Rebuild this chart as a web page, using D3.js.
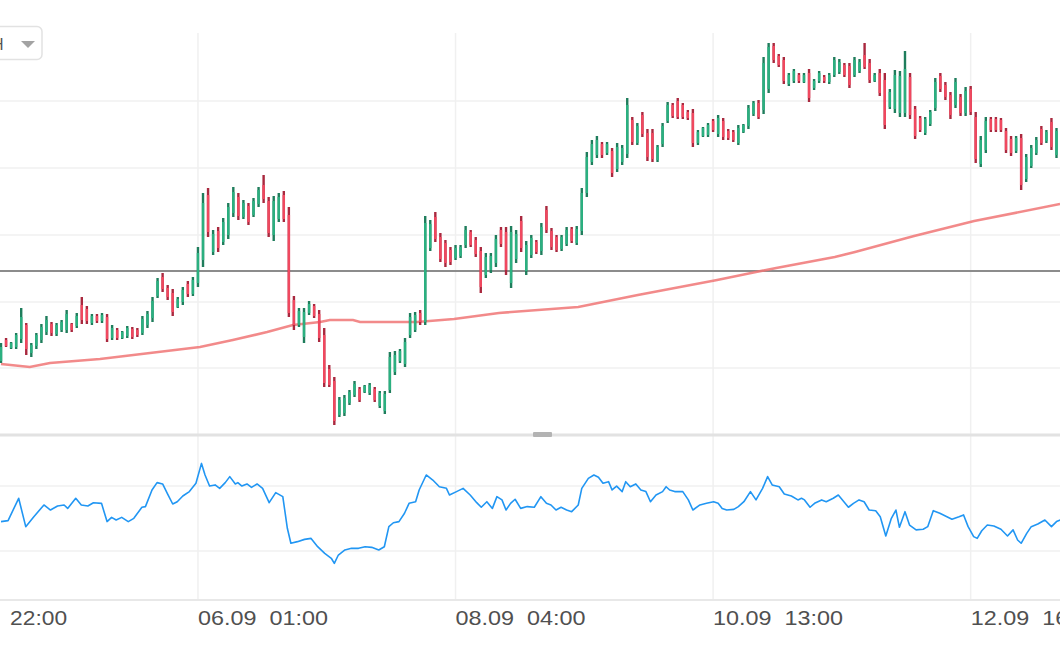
<!DOCTYPE html>
<html><head><meta charset="utf-8">
<script src="https://cdn.jsdelivr.net/npm/d3@7"></script>
<style>html,body{margin:0;padding:0;background:#fff;overflow:hidden}</style>
</head><body><svg id="c" width="1060" height="650"></svg>
<script>
// ---- DATA (hourly bars, price in chart units) ----
const highs = [92,97,93,102,127,112,92,102,111,119,
113,112,115,125,112,122,138,129,121,121,
122,121,110,107,104,109,108,107,119,124,
138,157,162,150,146,138,148,154,158,188,
242,247,205,208,217,232,248,242,235,232,
237,248,260,238,239,242,244,228,139,127,
127,134,131,125,107,70,58,38,40,45,
54,48,50,52,48,44,44,83,84,86,
97,122,123,125,219,215,223,202,195,188,
190,190,209,205,198,188,182,182,200,208,
208,209,205,219,194,200,195,212,229,207,
200,200,208,208,209,247,283,295,299,293,
293,287,292,290,337,318,312,323,306,306,
290,312,333,332,337,332,325,326,305,308,
312,316,320,317,306,305,310,311,330,334,
335,378,392,392,381,378,362,366,362,362,
366,356,364,360,362,378,376,372,372,378,
376,392,376,362,366,362,346,365,364,384,
362,329,319,318,325,357,362,353,343,357,
341,348,349,323,299,318,318,318,317,307,
299,299,301,281,290,298,309,305,317,307];
const lows = [72,88,86,86,92,80,78,86,92,100,
99,99,103,102,103,107,111,111,110,112,
112,93,95,95,96,97,96,98,100,107,
113,137,143,135,119,127,130,138,139,148,
168,198,180,183,190,196,218,215,216,210,
218,228,232,198,194,213,213,118,105,108,
92,120,117,93,48,48,10,18,19,30,
38,33,42,40,33,27,21,42,60,72,
68,97,103,110,110,184,193,173,168,170,
175,177,187,188,178,142,157,162,168,188,
160,147,172,183,160,177,181,180,202,185,
183,184,189,192,190,200,238,270,277,277,
280,258,263,270,277,290,290,298,274,273,
273,288,312,317,316,316,315,288,290,298,
298,303,298,295,295,293,290,302,306,319,
316,321,342,372,368,351,349,352,352,352,
333,345,352,352,351,358,361,358,347,358,
362,366,352,353,339,306,326,322,318,318,
316,296,303,300,309,324,343,335,316,327,
319,319,320,272,268,282,303,303,303,282,
279,282,245,253,267,280,290,292,285,277];
const opens = [74,95,87,88,96,110,82,89,95,103,
111,101,105,105,111,109,130,126,112,119,
114,118,97,105,97,99,106,105,102,110,
117,139,158,147,142,128,133,151,141,152,
175,240,183,204,193,200,222,238,218,229,
220,231,250,234,200,216,240,220,135,110,
98,122,129,121,100,66,54,20,22,32,
40,46,43,42,46,29,24,45,63,74,
71,100,105,122,113,187,218,198,192,185,
177,179,190,203,195,184,160,165,172,205,
203,152,176,214,164,180,193,184,225,204,
198,186,191,206,192,204,242,273,280,291,
282,284,266,273,281,315,292,320,302,302,
275,291,314,330,334,330,323,322,292,299,
300,314,301,314,304,303,292,303,309,321,
332,325,346,389,379,375,351,354,360,353,
362,347,354,358,353,360,363,370,369,360,
364,380,372,354,362,355,328,326,322,322,
358,326,317,302,311,327,359,350,340,330,
338,322,346,318,271,285,316,316,315,304,
296,284,297,256,269,282,306,294,313,280];
const closes = [88,89,92,100,118,86,90,100,108,115,
102,110,113,121,105,119,115,114,119,114,
120,96,107,97,103,107,98,100,116,121,
134,154,146,138,123,136,145,141,155,182,
232,203,201,187,213,228,243,219,232,213,
234,245,236,202,234,238,216,122,110,124,
123,131,119,97,52,50,14,35,37,43,
51,35,49,50,35,42,41,78,80,84,
93,118,120,113,212,211,196,176,172,173,
187,188,205,190,181,148,178,179,196,191,
165,203,201,187,190,197,183,208,205,188,
185,198,205,194,206,242,278,291,295,280,
291,262,288,287,330,293,309,301,278,276,
288,309,330,319,318,318,317,292,303,307,
310,305,317,298,297,295,307,310,327,332,
318,372,388,375,370,354,360,364,354,360,
337,354,362,354,360,375,373,360,350,375,
373,368,355,360,342,310,343,360,359,366,
320,299,305,316,323,353,346,338,320,353,
322,344,323,276,295,314,305,305,305,285,
282,297,250,278,287,295,292,303,288,304];

// moving average (bar index, value)
const maIndex = [0,5.7,9.7,19.6,29.5,39.4,45.9,52.7,57.8,63.2,65.1,69.7,71.1,82.4,89.7,98.6,114.3,126.1,141.8,149.5,153.5,165.1,169.1,180.8,192.7,209.7];
const maValues = [71,68,72,76,82,88,95,103,110,113,115,115,113,113,116,122,128,140,155,163,167,178,183,199,214,231];

// oscillator (bar index, value 0..100)
const rsiIndex = [0,1.4,3.5,4.9,6.5,8.5,9.8,11.2,12.5,13.2,14.8,15.9,17.2,18.3,19.9,21.0,21.9,22.8,23.9,25.2,26.3,27.9,28.6,29.9,30.9,32.0,33.0,34.0,34.9,36.0,37.3,38.6,39.7,40.4,41.3,42.4,43.3,44.4,45.3,46.4,46.9,47.7,48.7,49.6,50.7,51.8,53.1,54.4,55.8,56.7,57.4,58.7,60.1,61.4,62.7,64.1,65.4,66.0,66.8,68.1,69.4,70.8,72.1,73.4,74.8,75.9,76.8,77.7,78.8,79.9,80.8,82.1,82.8,84.2,85.5,86.8,88.2,88.8,90.2,91.5,92.9,94.2,95.1,96.2,97.3,98.2,99.2,100.0,100.9,101.8,102.9,104.2,105.6,106.9,108.0,108.9,109.9,110.9,112.0,113.0,114.3,115.0,116.3,117.4,118.3,119.2,120.3,121.0,121.9,123.0,123.7,124.6,125.7,126.7,127.7,128.6,129.7,131.0,131.7,132.4,133.4,135.0,136.1,137.0,138.4,139.7,141.1,142.0,142.8,143.7,145.1,146.0,147.1,148.4,149.5,150.8,151.8,152.7,154.1,155.1,156.5,157.8,158.5,159.1,160.2,161.1,162.5,163.4,164.8,165.8,166.9,167.8,168.8,169.9,170.9,171.9,173.2,174.1,175.2,176.3,177.2,177.9,179.0,179.9,181.2,182.6,183.5,184.6,185.9,187.3,188.3,189.7,190.6,191.5,192.6,193.3,194.2,195.3,196.6,198.0,199.3,200.4,201.3,202.0,203.1,204.0,205.3,206.7,208.0,209.0,209.8];
const rsiValues = [48.1,48.7,62.4,45.0,51.1,58.3,55.2,57.7,58.3,56.2,62.4,58.3,57.7,59.7,59.3,48.1,50.7,49.1,50.7,48.1,50.1,56.9,57.3,67.5,72.0,71.2,65.0,58.9,60.3,63.8,66.5,71.6,83.8,76.7,69.9,70.6,68.5,72.0,75.7,71.2,72.0,69.9,71.2,69.1,71.2,68.5,59.7,65.9,63.4,44.0,34.8,35.8,37.2,37.8,32.7,28.6,25.6,22.5,27.6,30.7,31.7,31.7,32.7,32.3,30.7,32.7,45.0,47.4,48.1,53.2,59.3,60.3,67.5,76.7,73.6,69.5,68.5,64.4,66.5,68.5,64.4,59.7,56.9,60.3,56.2,63.4,61.4,55.2,59.3,61.8,56.2,57.3,56.9,63.4,59.3,58.3,55.2,56.9,55.2,54.2,58.3,68.5,74.6,76.7,75.3,71.6,72.6,67.5,69.9,66.5,72.6,69.5,71.2,67.5,66.5,60.3,64.4,66.5,69.5,67.5,66.5,66.5,61.4,55.2,58.3,59.3,60.3,59.3,56.2,55.2,55.6,57.3,60.3,66.5,61.4,68.5,75.7,70.6,69.5,65.0,63.8,61.4,62.4,61.4,56.9,59.3,61.4,60.3,62.4,64.4,60.3,56.9,59.3,61.4,60.3,55.2,54.8,51.1,39.3,50.1,55.2,44.6,54.2,46.0,43.0,43.4,45.0,54.8,53.2,51.1,49.5,51.1,52.2,45.0,38.9,37.8,42.5,46.0,45.4,43.4,39.3,43.0,36.8,34.8,40.9,45.0,46.6,49.1,45.0,48.1,49.1];

const priceGrid = [67,133,200,267,334];
const lastPrice = 164;
const rsiGrid = [30,70];
const gridIdx = [39,90,141,192];
const tickIdx = [1.8,39,90,141,192];
const tickLabels = ["22:00","06.09  01:00","08.09  04:00","10.09  13:00","12.09  16:00"];

// ---- DRAW ----
const svg = d3.select("#c");
const n = highs.length;
const x = d3.scaleLinear().domain([0, n-1]).range([1, 1056.5]);
const y = d3.scaleLinear().domain([0, 435]).range([435, 0]);
const yr = d3.scaleLinear().domain([0, 100]).range([600, 437]);

// horizontal grids
svg.append("g").selectAll("line").data(priceGrid).join("line")
  .attr("x1",0).attr("x2",1060).attr("y1",d=>y(d)).attr("y2",d=>y(d))
  .attr("stroke","#f0f0f0").attr("stroke-width",1.5);
svg.append("g").selectAll("line").data(rsiGrid).join("line")
  .attr("x1",0).attr("x2",1060).attr("y1",d=>yr(d)).attr("y2",d=>yr(d))
  .attr("stroke","#f0f0f0").attr("stroke-width",1.5);
// vertical grids
svg.append("g").selectAll("line").data(gridIdx).join("line")
  .attr("x1",d=>x(d)).attr("x2",d=>x(d)).attr("y1",33).attr("y2",600)
  .attr("stroke","#f0f0f0").attr("stroke-width",1.5);

// last price line
svg.append("line").attr("x1",0).attr("x2",1060).attr("y1",y(lastPrice)).attr("y2",y(lastPrice))
  .attr("stroke","#8c8c8c").attr("stroke-width",2);

// moving average
svg.append("path")
  .datum(maIndex.map((d,i)=>[d,maValues[i]]))
  .attr("d", d3.line().x(d=>x(d[0])).y(d=>y(d[1])))
  .attr("fill","none").attr("stroke","#f07676").attr("stroke-opacity",0.85).attr("stroke-width",2.6);

// candles
const bw = 2.4;
const cg = svg.append("g");
const data = d3.range(n).map(i=>({i,o:opens[i],h:highs[i],l:lows[i],c:closes[i]}));
cg.selectAll("rect.w").data(data).join("rect").attr("class","w")
  .attr("x",d=>x(d.i)-bw/2).attr("width",bw)
  .attr("y",d=>y(d.h)).attr("height",d=>y(d.l)-y(d.h))
  .attr("fill",d=>d.c>=d.o?"#1f7d5c":"#a9283e");
cg.selectAll("rect.b").data(data).join("rect").attr("class","b")
  .attr("x",d=>x(d.i)-bw/2).attr("width",bw)
  .attr("y",d=>y(Math.max(d.o,d.c))).attr("height",d=>Math.max(1,Math.abs(y(d.o)-y(d.c))))
  .attr("fill",d=>d.c>=d.o?"#2bb080":"#f0485f");

// panel separator
svg.append("line").attr("x1",0).attr("x2",1060).attr("y1",435).attr("y2",435)
  .attr("stroke","#e2e2e2").attr("stroke-width",3);
svg.append("rect").attr("x",533).attr("y",432).attr("width",19).attr("height",5).attr("rx",1).attr("fill","#b3b3b3");

// oscillator line
svg.append("path")
  .datum(rsiIndex.map((d,i)=>[d,rsiValues[i]]))
  .attr("d", d3.line().x(d=>x(d[0])).y(d=>yr(d[1])))
  .attr("fill","none").attr("stroke","#2196f3").attr("stroke-width",1.6).attr("stroke-linejoin","round");

// time axis
svg.append("line").attr("x1",0).attr("x2",1060).attr("y1",600).attr("y2",600)
  .attr("stroke","#e8e8e8").attr("stroke-width",2);
svg.append("g").selectAll("text").data(tickIdx).join("text")
  .attr("x",d=>x(d)).attr("y",625)
  .attr("font-family","Liberation Sans, Arial, sans-serif").attr("font-size",21)
  .attr("fill","#505050").style("white-space","pre")
  .attr("textLength",(d,i)=>i===0?57:130).attr("lengthAdjust","spacingAndGlyphs")
  .text((d,i)=>tickLabels[i]);

// interval selector (cropped)
svg.append("rect").attr("x",-12).attr("y",26.5).attr("width",54).attr("height",33).attr("rx",5)
  .attr("fill","#fff").attr("stroke","#e2e2e2").attr("stroke-width",1.5);
svg.append("text").attr("x",3.5).attr("y",50).attr("text-anchor","end")
  .attr("font-family","Liberation Sans, Arial, sans-serif").attr("font-size",16).attr("fill","#555").text("1H");
svg.append("path").attr("d","M21,41 L35,41 L28,48 Z").attr("fill","#a3a3a3");
</script></body></html>
